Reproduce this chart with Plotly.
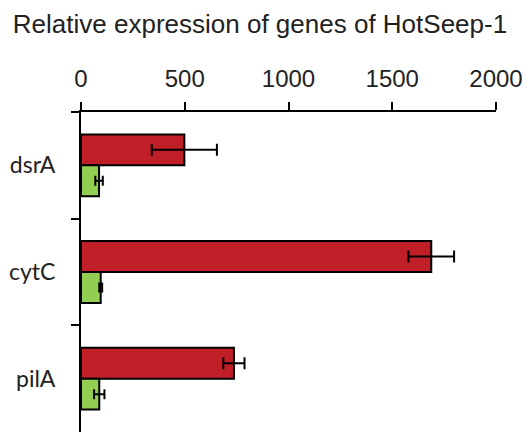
import plotly.graph_objects as go

genes = ["dsrA", "cytC", "pilA"]
red_values = [498, 1688, 737]
red_errors = [157, 110, 51]
green_values = [87, 95, 88]
green_errors = [18, 7, 25]
x_ticks = [0, 500, 1000, 1500, 2000]

fig = go.Figure()
fig.add_trace(go.Bar(
    y=genes, x=red_values, orientation="h", name="red",
    marker=dict(color="#C01F27", line=dict(color="black", width=2)),
    error_x=dict(type="data", array=red_errors, visible=True, color="black", thickness=2, width=6),
))
fig.add_trace(go.Bar(
    y=genes, x=green_values, orientation="h", name="green",
    marker=dict(color="#92CE52", line=dict(color="black", width=2)),
    error_x=dict(type="data", array=green_errors, visible=True, color="black", thickness=2, width=5),
))

fig.update_layout(
    width=532, height=434,
    margin=dict(l=81, r=36, t=112, b=2),
    paper_bgcolor="white", plot_bgcolor="white",
    barmode="group", bargap=0.42, bargroupgap=0,
    showlegend=False,
    title=dict(text="Relative expression of genes of HotSeep-1",
               xref="container", yref="container", x=260/532, y=1-24/434,
               xanchor="center", yanchor="middle",
               font=dict(family="Liberation Sans, Arial", size=26, color="#222")),
)
fig.update_xaxes(
    side="top", range=[0, 2000], tickvals=x_ticks,
    showgrid=False, zeroline=False,
    showline=True, linecolor="black", linewidth=2,
    ticks="outside", ticklen=8, tickwidth=2, tickcolor="black",
    ticklabelstandoff=5,
    tickfont=dict(family="Liberation Sans, Arial", size=24, color="#222"),
)
fig.update_yaxes(
    categoryorder="array", categoryarray=genes, autorange="reversed",
    showgrid=False, zeroline=False,
    showline=True, linecolor="black", linewidth=2,
    ticks="outside", tickson="boundaries", ticklen=8, tickwidth=2, tickcolor="black",
    ticklabelstandoff=19,
    tickfont=dict(family="Lato, Open Sans", size=23, color="#222"),
)

fig.write_html("out.html")
